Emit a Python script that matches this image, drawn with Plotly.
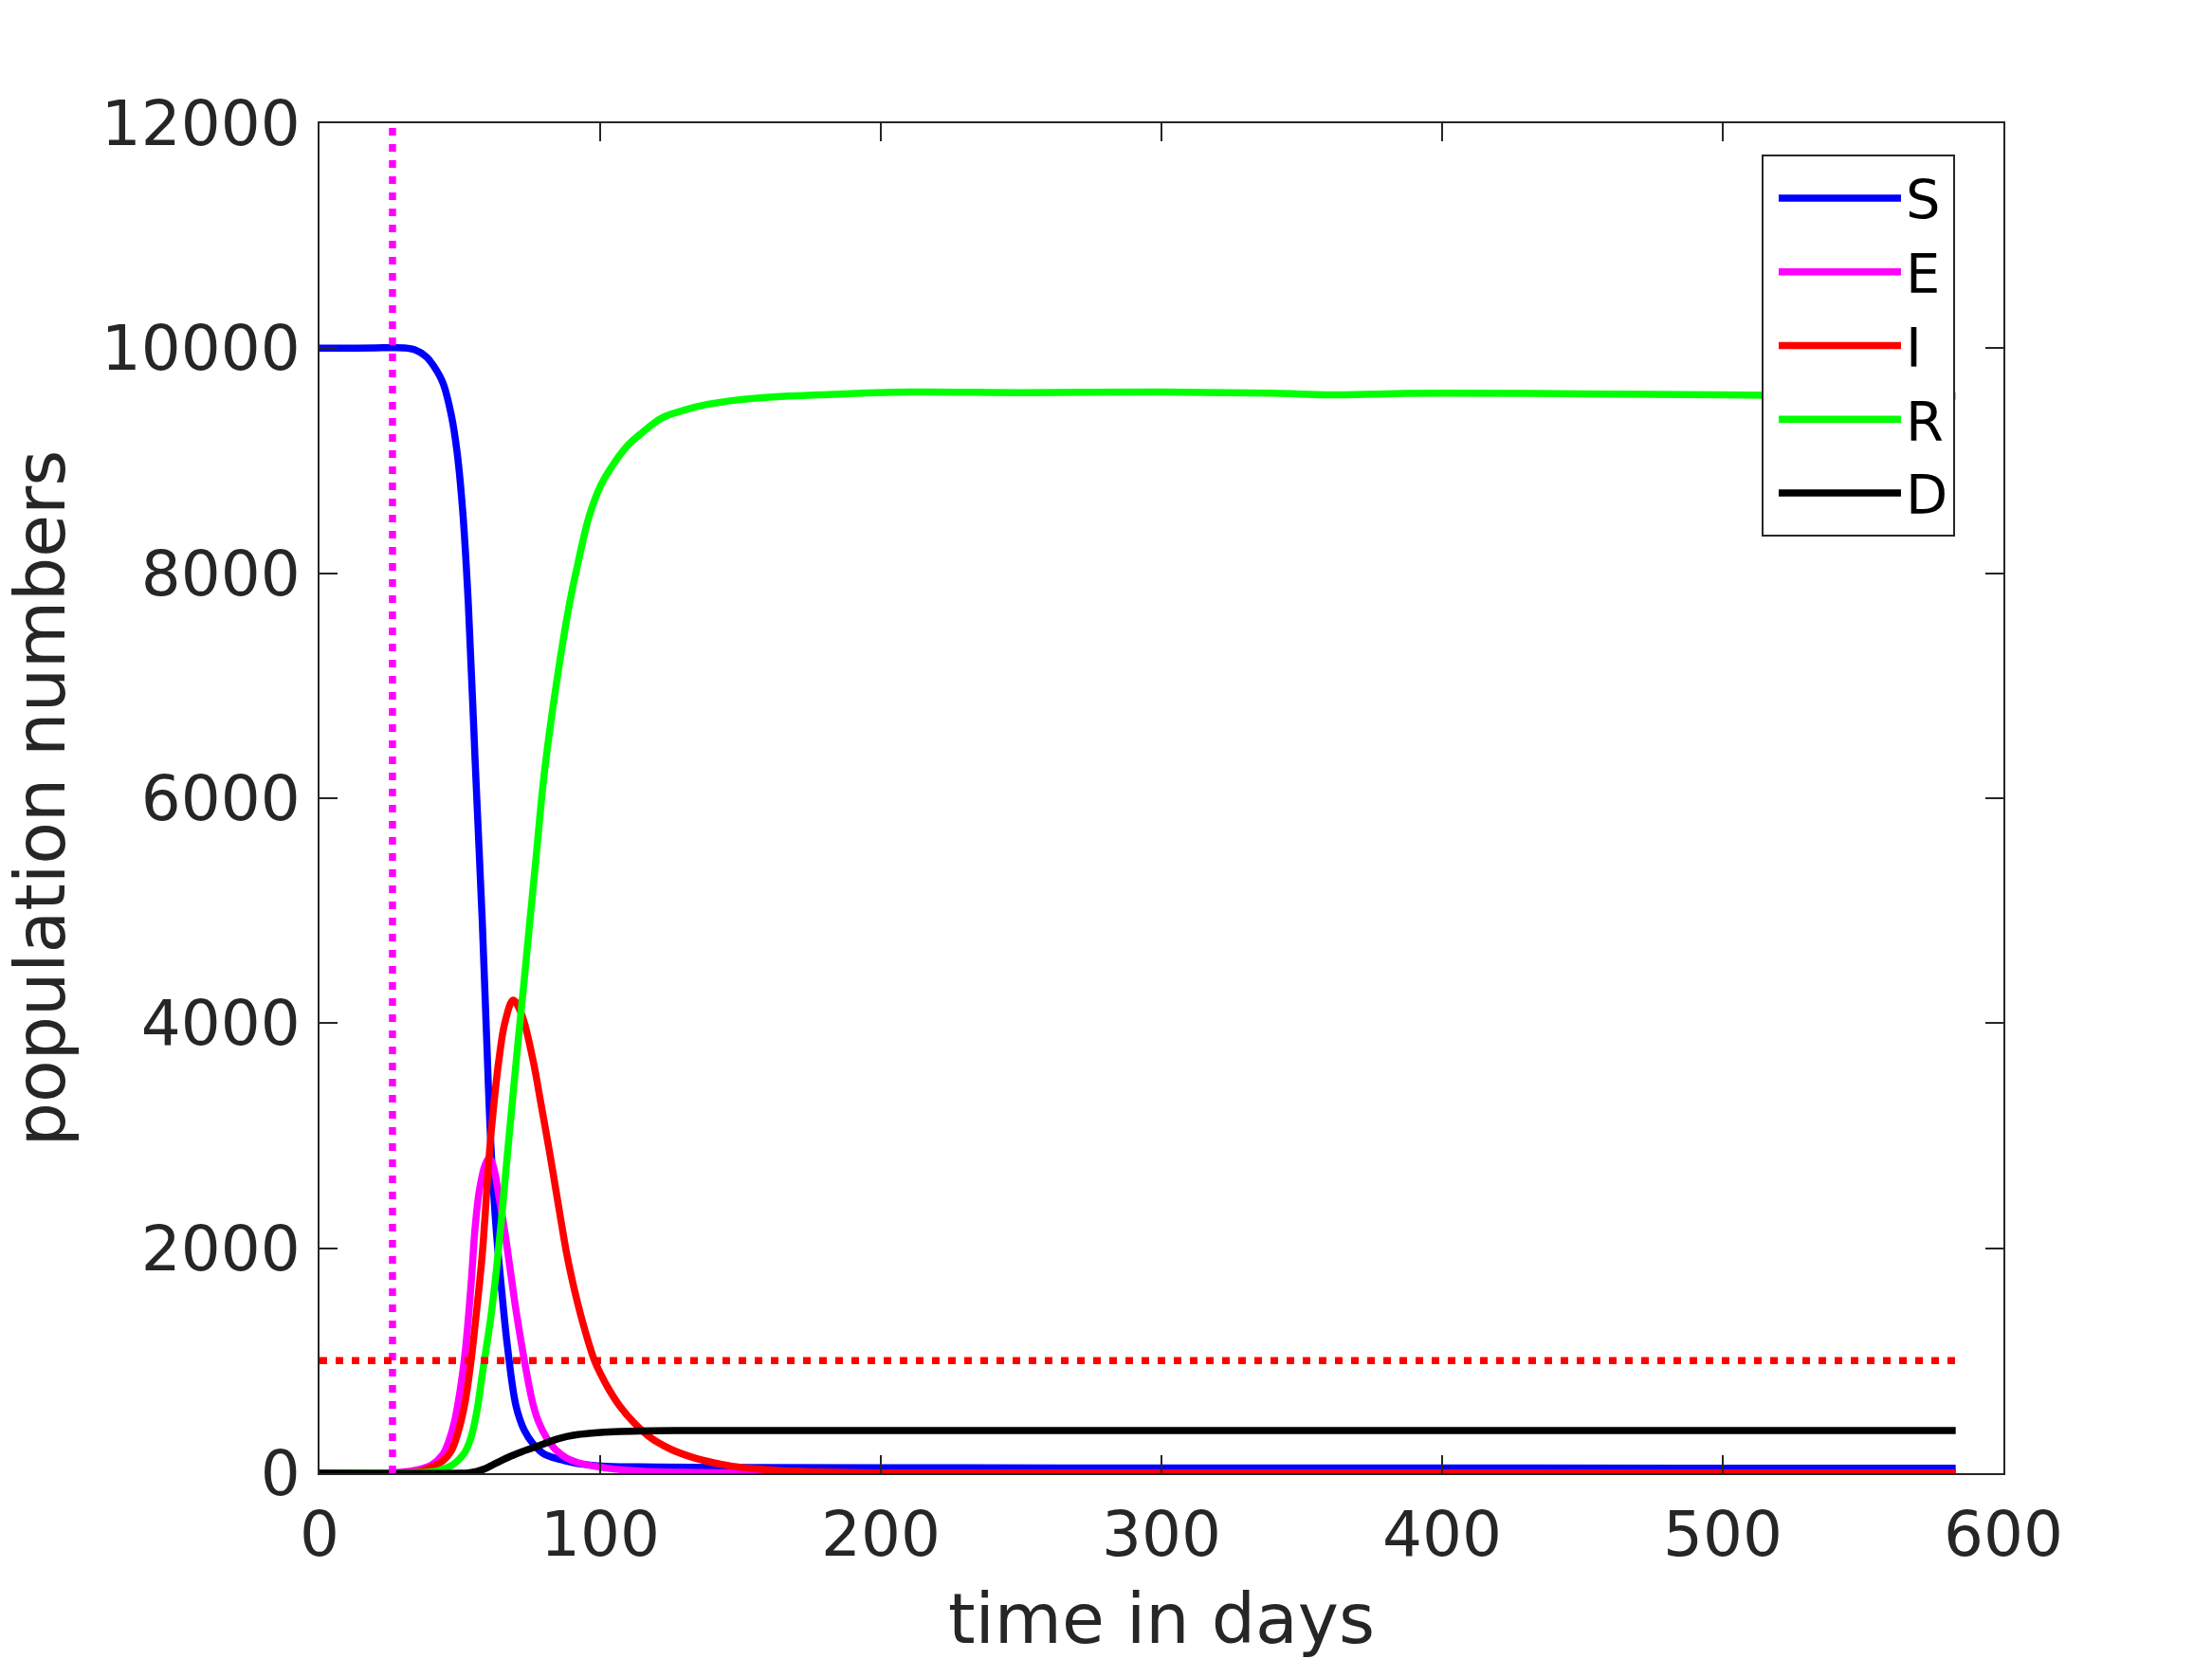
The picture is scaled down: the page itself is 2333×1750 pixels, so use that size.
import plotly.graph_objects as go

# ---- data ----
S_t = [0, 10, 20, 26, 30, 34, 38, 41, 44, 47, 49, 51, 53, 55.5, 58, 59.5, 61, 63, 65, 67, 70, 73, 76, 80, 86, 92, 102, 120, 150, 200, 300, 400, 500, 583]
S = [10000, 10000, 10003, 10005, 10003, 9985, 9925, 9830, 9690, 9400, 9080, 8560, 7740, 6300, 4900, 3900, 2950, 2150, 1600, 1120, 600, 380, 265, 170, 120, 85, 62, 55, 50, 48, 47, 46, 45, 45]

E_t = [0, 25, 30, 35, 40, 44, 46, 48, 50, 52, 54, 55.5, 57, 59, 60.5, 62, 64, 66, 68, 70, 73, 76, 78, 81, 84.4, 88, 92, 98, 105, 114, 130, 150, 200, 300, 583]
E = [0, 3, 10, 30, 75, 170, 280, 450, 720, 1100, 1680, 2200, 2520, 2740, 2800, 2720, 2450, 2150, 1800, 1450, 1000, 620, 460, 310, 202, 135, 95, 62, 37, 20, 8, 3, 1, 0, 0]

I_t = [0, 25, 30, 35, 40, 44, 47, 50, 52, 54, 56, 58, 60.5, 62, 64, 66, 69, 72, 76, 79, 82, 84, 86, 88, 90, 92, 94, 96, 98, 100, 103, 107, 112, 118, 125, 133, 140, 147, 155, 164, 180, 200, 230, 260, 583]
I = [0, 1, 4, 12, 55, 110, 200, 420, 650, 1000, 1450, 1950, 2840, 3250, 3690, 4000, 4205, 4080, 3680, 3270, 2850, 2550, 2250, 1960, 1720, 1510, 1320, 1150, 1000, 890, 750, 596, 450, 315, 215, 140, 95, 62, 40, 24, 10, 3, 1, 0, 0]

R_t = [0, 30, 38, 42, 46, 48, 50, 52, 54, 56, 58, 61, 63, 65, 67, 69, 71, 73, 75, 77, 80, 84, 89, 92, 96, 100, 105, 110, 115, 122, 130, 138, 155, 183, 211, 250, 300, 340, 360, 380, 400, 450, 500, 550, 583]
R = [0, 2, 8, 20, 55, 85, 130, 195, 320, 540, 880, 1380, 1800, 2300, 2850, 3380, 3900, 4400, 4920, 5430, 6200, 6950, 7720, 8080, 8500, 8770, 8980, 9140, 9250, 9380, 9450, 9500, 9555, 9590, 9610, 9605, 9610, 9600, 9585, 9595, 9600, 9595, 9585, 9578, 9575]

D_t = [0, 50, 53, 56, 59, 62, 65, 68, 72, 76, 80, 84, 88, 92, 98, 105, 114, 130, 170, 300, 583]
D = [0, 0, 3, 15, 40, 78, 115, 150, 190, 225, 262, 298, 325, 343, 358, 369, 376, 379, 380, 380, 380]

intervention_day = 26
threshold = 1000
t_end = 583

series_names = ["S", "E", "I", "R", "D"]
series_colors = ["#0000FF", "#FF00FF", "#FF0000", "#00FF00", "#000000"]

x_ticks = [0, 100, 200, 300, 400, 500, 600]
y_ticks = [0, 2000, 4000, 6000, 8000, 10000, 12000]

# ---- figure ----
TXT = "#262626"
FONT = "DejaVu Sans"
fig = go.Figure()
for name, tt, yy, col in zip(series_names, [S_t, E_t, I_t, R_t, D_t], [S, E, I, R, D], series_colors):
    fig.add_trace(go.Scatter(x=tt, y=yy, name=name, mode="lines",
                             line=dict(color=col, width=7.5, shape="spline", smoothing=1.0)))

fig.add_trace(go.Scatter(x=[intervention_day, intervention_day], y=[y_ticks[0], y_ticks[-1]],
                         mode="lines", showlegend=False,
                         line=dict(color="#FF00FF", width=7.5, dash="8px,9px")))
fig.add_trace(go.Scatter(x=[0, t_end], y=[threshold, threshold],
                         mode="lines", showlegend=False,
                         line=dict(color="#FF0000", width=7.5, dash="8px,9px")))

axis_common = dict(showgrid=False, zeroline=False, showline=True, linecolor=TXT, linewidth=2,
                   mirror="ticks", ticks="inside", ticklen=19, tickwidth=2, tickcolor=TXT,
                   tickfont=dict(family=FONT, size=66, color=TXT), automargin=False)

fig.update_layout(
    width=2333, height=1750,
    margin=dict(l=337, r=220, t=130, b=196),
    paper_bgcolor="white", plot_bgcolor="white",
    font=dict(family=FONT, color=TXT),
    xaxis=dict(range=[0, 600], tickvals=x_ticks, ticktext=[str(v) for v in x_ticks],
               ticklabelstandoff=6,
               title=dict(text="time in days", font=dict(family=FONT, size=73, color=TXT), standoff=30),
               **axis_common),
    yaxis=dict(range=[0, 12000], tickvals=y_ticks, ticktext=[str(v) for v in y_ticks],
               ticklabelstandoff=5,
               title=dict(text="population numbers", font=dict(family=FONT, size=73, color=TXT), standoff=22),
               **axis_common),
    legend=dict(x=0.8564, y=0.9768, xanchor="left", yanchor="top",
                bgcolor="white", bordercolor=TXT, borderwidth=2,
                font=dict(family=FONT, size=57.5, color="#000000"),
                itemwidth=129, indentation=11,
                tracegroupgap=0),
    showlegend=True,
)

fig.write_html("out.html", config={"displayModeBar": False},
               post_script="document.body.style.margin='0';")
